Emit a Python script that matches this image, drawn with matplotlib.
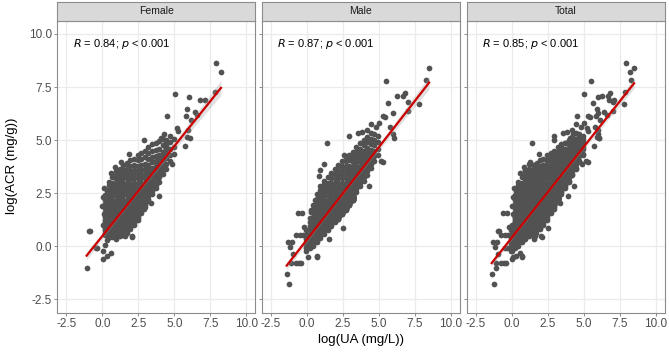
import numpy as np
import matplotlib
matplotlib.use('Agg')
import matplotlib.pyplot as plt

plt.rcParams['font.family'] = ['Liberation Sans', 'DejaVu Sans']

# ---- data: log(UA) columns with their log(ACR) values ----
# visible body of the Female cloud (x, [y, ...])
female_core = [
    (0.2, [0.55, 0.65, 0.75, 0.85, 0.95, 1.05, 1.15, 1.25, 1.4, 1.6, 1.8, 2.0, 2.2, 2.4]),
    (0.45, [0.45, 0.55, 0.65, 0.75, 0.85, 0.95, 1.05, 1.15, 1.25, 1.35, 1.5, 1.7, 1.9, 2.1, 2.3, 2.5, 2.7, 2.9]),
    (0.7, [0.45, 0.55, 0.65, 0.75, 0.85, 0.95, 1.05, 1.15, 1.25, 1.35, 1.45, 1.6, 1.8, 2.0, 2.2, 2.4, 2.6,
           2.8, 3.0, 3.25]),
    (0.95, [0.5, 0.6, 0.7, 0.8, 0.9, 1.0, 1.1, 1.2, 1.3, 1.4, 1.5, 1.6, 1.75, 1.95, 2.15, 2.35, 2.55, 2.75,
            2.95, 3.15, 3.35, 3.55]),
    (1.2, [0.5, 0.6, 0.7, 0.8, 0.9, 1.0, 1.1, 1.2, 1.3, 1.4, 1.5, 1.6, 1.7, 1.85, 2.05, 2.25, 2.45, 2.65,
           2.85, 3.05, 3.25, 3.45, 3.65]),
    (1.45, [0.55, 0.65, 0.75, 0.85, 0.95, 1.05, 1.15, 1.25, 1.35, 1.45, 1.55, 1.65, 1.75, 1.85, 2.0, 2.2,
            2.4, 2.6, 2.8, 3.0, 3.2, 3.4, 3.6, 3.85]),
    (1.7, [0.65, 0.75, 0.85, 0.95, 1.05, 1.15, 1.25, 1.35, 1.45, 1.55, 1.65, 1.75, 1.85, 1.95, 2.05, 2.2,
           2.4, 2.6, 2.8, 3.0, 3.2, 3.4, 3.65, 3.9]),
    (1.95, [0.8, 0.9, 1.0, 1.1, 1.2, 1.3, 1.4, 1.5, 1.6, 1.7, 1.8, 1.9, 2.0, 2.1, 2.2, 2.35, 2.55, 2.75,
            2.95, 3.15, 3.35, 3.55, 3.8, 4.05]),
    (2.2, [1.0, 1.1, 1.2, 1.3, 1.4, 1.5, 1.6, 1.7, 1.8, 1.9, 2.0, 2.1, 2.2, 2.3, 2.4, 2.6, 2.8, 3.0, 3.2,
           3.4, 3.6, 3.85, 4.1]),
    (2.45, [1.25, 1.35, 1.45, 1.55, 1.65, 1.75, 1.85, 1.95, 2.05, 2.15, 2.25, 2.35, 2.45, 2.6, 2.8, 3.0,
            3.2, 3.4, 3.6, 3.8, 4.05, 4.3]),
    (2.7, [1.55, 1.65, 1.75, 1.85, 1.95, 2.05, 2.15, 2.25, 2.35, 2.45, 2.55, 2.65, 2.8, 3.0, 3.2, 3.4, 3.6,
           3.85, 4.1, 4.4]),
    (2.95, [1.85, 1.95, 2.05, 2.15, 2.25, 2.35, 2.45, 2.55, 2.65, 2.75, 2.85, 3.0, 3.2, 3.4, 3.65, 3.9,
            4.2, 4.5]),
    (3.2, [2.15, 2.25, 2.35, 2.45, 2.55, 2.65, 2.75, 2.85, 2.95, 3.05, 3.2, 3.4, 3.6, 3.85, 4.1, 4.4, 4.7]),
    (3.45, [2.45, 2.6, 2.75, 2.9, 3.05, 3.2, 3.35, 3.5, 3.7, 3.95, 4.2, 4.5, 4.8]),
    (3.7, [2.75, 2.9, 3.05, 3.2, 3.35, 3.5, 3.65, 3.8, 4.0, 4.25, 4.55, 4.85]),
    (3.95, [3.05, 3.25, 3.45, 3.65, 3.85, 4.05, 4.3, 4.6, 4.95]),
    (4.2, [3.4, 3.6, 3.8, 4.0, 4.2, 4.45, 4.75, 5.05]),
    (4.45, [3.65, 3.9, 4.15, 4.4, 4.7, 5.0]),
    (4.7, [4.0, 4.3, 4.6, 4.9, 5.2]),
    (4.95, [4.35, 4.7, 5.05]),
]
# overlapping observations inside the solid part of the Female cloud
female_dense = [
    (0.45, [0.45, 0.47, 0.48, 0.5, 0.5, 0.5, 0.52, 0.52, 0.53, 0.55, 0.45, 0.48, 0.5, 0.53]),
    (0.7, [0.47, 0.5, 0.52, 0.55, 0.55, 0.57, 0.58, 0.6, 0.6, 0.62, 0.63, 0.65, 0.5, 0.56]),
    (0.95, [0.34, 0.39, 0.44, 0.44, 0.49, 0.49, 0.49, 0.49, 0.54, 0.54, 0.59, 0.64]),
    (1.2, [0.55, 0.60, 0.65, 0.65, 0.70, 0.70, 0.70, 0.70, 0.75, 0.75, 0.80, 0.85]),
    (1.45, [0.76, 0.81, 0.86, 0.86, 0.91, 0.91, 0.91, 0.91, 0.96, 0.96, 1.01, 1.06]),
    (1.7, [0.98, 1.03, 1.08, 1.08, 1.13, 1.13, 1.13, 1.13, 1.18, 1.18, 1.23, 1.28]),
    (1.95, [1.19, 1.24, 1.29, 1.29, 1.34, 1.34, 1.34, 1.34, 1.39, 1.39, 1.44, 1.49]),
    (2.2, [1.40, 1.45, 1.50, 1.50, 1.55, 1.55, 1.55, 1.55, 1.60, 1.60, 1.65, 1.70]),
    (2.45, [1.61, 1.66, 1.71, 1.71, 1.76, 1.76, 1.76, 1.76, 1.81, 1.81, 1.86, 1.91]),
    (4.45, [4.6, 4.65, 4.7, 4.75, 4.8, 4.85]),
]
female_outer = [
    (-1.09, -1.04), (-0.86, 0.72), (-0.46, -0.08), (-0.35, -0.08), (0.04, -0.2), (0.04, -0.61),
    (0.33, -0.45), (0.6, -0.33), (0.19, 0.06), (0.3, 0.3), (2.08, 0.45), (1.6, 0.5),
    (7.92, 8.62), (8.24, 8.21), (5.02, 7.18), (6.01, 7.03), (6.78, 6.87), (7.1, 6.87),
    (4.51, 6.15), (5.83, 6.15), (5.91, 6.48), (6.13, 5.96), (6.42, 6.32), (6.6, 6.2),
    (5.22, 5.58), (5.27, 5.42), (5.96, 5.5), (6.07, 5.11), (5.9, 5.17), (5.73, 4.72),
    (4.25, 5.27), (4.05, 5.09), (4.87, 3.88), (2.91, 5.03), (1.87, 4.37), (1.29, 3.98),
    (1.73, 3.93), (1.11, 3.38), (0.46, 3.02), (0.3, 2.59), (3.93, 2.39), (3.37, 2.04),
    (2.91, 1.76), (2.03, 0.47), (-0.92, 0.74), (7.85, 7.26),
    (0.05, 1.0), (0.1, 1.5), (0.0, 1.9), (0.08, 2.3), (0.15, 2.75), (0.6, 3.45), (0.85, 3.75),
]
male_core = [
    (-0.05, [-0.2, -0.1, 0.0, 0.1, 0.2, 0.35, 0.55, 0.75]),
    (0.2, [-0.1, 0.0, 0.1, 0.2, 0.3, 0.4, 0.5, 0.6, 0.75, 0.95, 1.15, 1.35]),
    (0.45, [0.0, 0.1, 0.2, 0.3, 0.4, 0.5, 0.6, 0.7, 0.8, 0.95, 1.15, 1.35, 1.55, 1.75, 1.95]),
    (0.7, [0.2, 0.3, 0.4, 0.5, 0.6, 0.7, 0.8, 0.9, 1.0, 1.1, 1.25, 1.45, 1.65, 1.85, 2.05, 2.25, 2.45]),
    (0.95, [0.4, 0.5, 0.6, 0.7, 0.8, 0.9, 1.0, 1.1, 1.2, 1.3, 1.45, 1.65, 1.85, 2.05, 2.25, 2.45, 2.65, 2.85]),
    (1.2, [0.6, 0.7, 0.8, 0.9, 1.0, 1.1, 1.2, 1.3, 1.4, 1.5, 1.6, 1.75, 1.95, 2.15, 2.35, 2.55, 2.75,
           2.95, 3.1]),
    (1.45, [0.75, 0.85, 0.95, 1.05, 1.15, 1.25, 1.35, 1.45, 1.55, 1.65, 1.75, 1.85, 2.0, 2.2, 2.4, 2.6,
            2.8, 3.0, 3.25]),
    (1.7, [0.95, 1.05, 1.15, 1.25, 1.35, 1.45, 1.55, 1.65, 1.75, 1.85, 1.95, 2.05, 2.2, 2.4, 2.6, 2.8,
           3.0, 3.2, 3.45]),
    (1.95, [1.15, 1.25, 1.35, 1.45, 1.55, 1.65, 1.75, 1.85, 1.95, 2.05, 2.15, 2.25, 2.4, 2.6, 2.8, 3.0,
            3.2, 3.4, 3.65]),
    (2.2, [1.45, 1.55, 1.65, 1.75, 1.85, 1.95, 2.05, 2.15, 2.25, 2.35, 2.45, 2.6, 2.8, 3.0, 3.2, 3.4,
           3.6, 3.85]),
    (2.45, [1.65, 1.75, 1.85, 1.95, 2.05, 2.15, 2.25, 2.35, 2.45, 2.55, 2.65, 2.8, 3.0, 3.2, 3.4, 3.6,
            3.8, 4.0]),
    (2.7, [1.85, 1.95, 2.05, 2.15, 2.25, 2.35, 2.45, 2.55, 2.65, 2.75, 2.85, 3.0, 3.2, 3.4, 3.6, 3.8,
           4.0, 4.2]),
    (2.95, [2.05, 2.15, 2.25, 2.35, 2.45, 2.55, 2.65, 2.75, 2.85, 2.95, 3.05, 3.2, 3.4, 3.6, 3.8, 4.05,
            4.3]),
    (3.2, [2.3, 2.4, 2.5, 2.6, 2.7, 2.8, 2.9, 3.0, 3.1, 3.2, 3.35, 3.55, 3.75, 3.95, 4.2, 4.45]),
    (3.45, [2.55, 2.7, 2.85, 3.0, 3.15, 3.3, 3.45, 3.6, 3.8, 4.0, 4.2, 4.45, 4.7]),
    (3.7, [2.85, 3.0, 3.15, 3.3, 3.45, 3.6, 3.75, 3.95, 4.15, 4.35, 4.6, 4.85]),
    (3.95, [3.1, 3.25, 3.4, 3.55, 3.7, 3.85, 4.05, 4.25, 4.5, 4.75, 5.0]),
    (4.2, [3.35, 3.55, 3.75, 3.95, 4.15, 4.4, 4.65, 4.9, 5.15]),
    (4.45, [3.7, 3.9, 4.1, 4.3, 4.55, 4.8, 5.05, 5.35]),
    (4.7, [4.0, 4.25, 4.5, 4.75, 5.0, 5.3]),
    (4.95, [4.3, 4.6, 4.9, 5.2]),
]
# overlapping observations inside the solid part of the Male cloud
male_dense = [
    (0.2, [0.0, 0.02, 0.04, 0.05, 0.06, 0.07, 0.08, 0.08, 0.09, 0.1, 0.11, 0.12, 0.14]),
    (2.2, [1.29, 1.31, 1.33, 1.35, 1.36, 1.37, 1.38, 1.39, 1.40, 1.41, 1.41, 1.42, 1.43, 1.44, 1.45,
           1.46, 1.47, 1.49, 1.51, 1.53, 1.41]),
    (2.45, [1.51, 1.53, 1.55, 1.57, 1.58, 1.59, 1.60, 1.61, 1.62, 1.63, 1.63, 1.64, 1.65, 1.66, 1.67,
            1.68, 1.69, 1.71, 1.73, 1.75, 1.63]),
    (2.7, [1.73, 1.75, 1.77, 1.79, 1.80, 1.81, 1.82, 1.83, 1.84, 1.85, 1.85, 1.86, 1.87, 1.88, 1.89,
           1.90, 1.91, 1.93, 1.95, 1.97, 1.85]),
    (2.95, [1.95, 1.97, 1.99, 2.01, 2.02, 2.03, 2.04, 2.05, 2.06, 2.07, 2.07, 2.08, 2.09, 2.10, 2.11,
            2.12, 2.13, 2.15, 2.17, 2.19, 2.07]),
    (3.2, [2.16, 2.18, 2.20, 2.22, 2.23, 2.24, 2.25, 2.26, 2.27, 2.28, 2.28, 2.29, 2.30, 2.31, 2.32,
           2.33, 2.34, 2.36, 2.38, 2.40, 2.28]),
]
male_outer = [
    (-1.39, -1.32), (-1.2, -1.75), (-1.32, 0.22), (-1.13, -0.02), (-0.97, -0.36), (-1.09, -0.8),
    (-0.74, -0.8), (-0.39, -0.8), (-0.46, 0.53), (-0.23, 0.53), (-0.58, 1.56), (-0.35, 1.56),
    (0.12, -0.49), (0.69, -0.49), (1.41, 4.86), (1.18, 3.87), (5.54, 7.77), (8.5, 8.4),
    (8.27, 7.85), (7.81, 6.7), (6.26, 7.09), (6.81, 7.22), (6.72, 7.1), (7.04, 6.79),
    (5.64, 6.76), (5.45, 6.08), (6.0, 6.29), (7.02, 6.37), (4.46, 5.74), (5.03, 5.79),
    (2.91, 5.19), (3.53, 5.35), (3.83, 5.38), (6.07, 5.11), (6.0, 5.31), (5.15, 4.0),
    (5.31, 3.99), (4.34, 2.83), (2.49, 0.85), (1.57, 0.35), (0.72, -0.47), (-0.74, 0.55),
    (-1.02, 0.19), (-0.51, -0.79), (0.3, 1.73), (5.27, 6.12), (5.8, 5.6), (4.8, 5.6),
    (4.2, 5.5), (2.6, 4.3),
    (0.95, 3.6), (0.85, 3.3), (0.55, 2.2), (0.3, 1.6), (-0.2, 0.9),
]

panel_names = ['Female', 'Male', 'Total']
cor_labels = [('0.84', '< 0.001'), ('0.87', '< 0.001'), ('0.85', '< 0.001')]
ticks = [-2.5, 0.0, 2.5, 5.0, 7.5, 10.0]
tick_labels = ['-2.5', '0.0', '2.5', '5.0', '7.5', '10.0']


def to_xy(columns, outer):
    xs = [cx for cx, ys in columns for _ in ys] + [p[0] for p in outer]
    ys = [v for _, ys in columns for v in ys] + [p[1] for p in outer]
    return np.array(xs), np.array(ys)


fx, fy = to_xy(female_core + female_dense, female_outer)
mx, my = to_xy(male_core + male_dense, male_outer)
groups = [(fx, fy), (mx, my), (np.concatenate([fx, mx]), np.concatenate([fy, my]))]

W, H = 669, 354
fig = plt.figure(figsize=(W / 100, H / 100), dpi=100)
lefts = [57.3, 261.7, 466.7]
pw = 198.0
top, bottom = 20.7, 312.7
strip_h = 19.0
lims = (-3.125, 10.625)

for i, (x, y) in enumerate(groups):
    ax = fig.add_axes([lefts[i] / W, 1 - bottom / H, pw / W, (bottom - top) / H])
    ax.set_xlim(lims)
    ax.set_ylim(lims)
    ax.set_xticks(ticks)
    ax.set_yticks(ticks)
    ax.set_xticklabels(tick_labels)
    if i == 0:
        ax.set_yticklabels(tick_labels)
    else:
        ax.set_yticklabels([])
        ax.tick_params(axis='y', length=0)
    ax.grid(True, color='#EBEBEB', linewidth=0.9)
    ax.set_axisbelow(True)
    for s in ax.spines.values():
        s.set_color('#8C8C8C')
        s.set_linewidth(0.8)
    ax.tick_params(labelsize=8.5, labelcolor='#4D4D4D', color='#8C8C8C', length=2.5, width=0.7, pad=1.5)

    ax.scatter(x, y, s=17, color='#525252', linewidths=0, zorder=2)

    # least squares fit with 95% band
    b, a = np.polyfit(x, y, 1)
    xs = np.linspace(x.min(), x.max(), 80)
    yhat = a + b * xs
    n = len(x)
    resid = y - (a + b * x)
    s_err = np.sqrt(np.sum(resid ** 2) / (n - 2))
    se = s_err * np.sqrt(1.0 / n + (xs - x.mean()) ** 2 / np.sum((x - x.mean()) ** 2))
    ax.fill_between(xs, yhat - 1.97 * se, yhat + 1.97 * se, color='#999999', alpha=0.3,
                    linewidth=0, zorder=3)
    ax.plot(xs, yhat, color='#CC0000', linewidth=1.6, zorder=4)

    r, p = cor_labels[i]
    ax.text(-2.05, 9.55, r'$\it{R}$ = ' + r + r'; $\it{p}$ ' + p, fontsize=8, color='black',
            ha='left', va='center')

    # facet strip
    sax = fig.add_axes([lefts[i] / W, 1 - top / H, pw / W, strip_h / H])
    sax.set_facecolor('#D9D9D9')
    sax.set_xticks([])
    sax.set_yticks([])
    for s in sax.spines.values():
        s.set_color('#8C8C8C')
        s.set_linewidth(0.8)
    sax.text(0.5, 0.5, panel_names[i], ha='center', va='center', fontsize=7.5, color='#1A1A1A',
             transform=sax.transAxes)

fig.text(361 / W, 1 - 340 / H, 'log(UA (mg/L))', ha='center', va='center', fontsize=9.5, color='black')
fig.text(12 / W, 1 - 166 / H, 'log(ACR (mg/g))', ha='center', va='center', rotation=90,
         fontsize=9.5, color='black')

fig.savefig('out.png', dpi=100)
